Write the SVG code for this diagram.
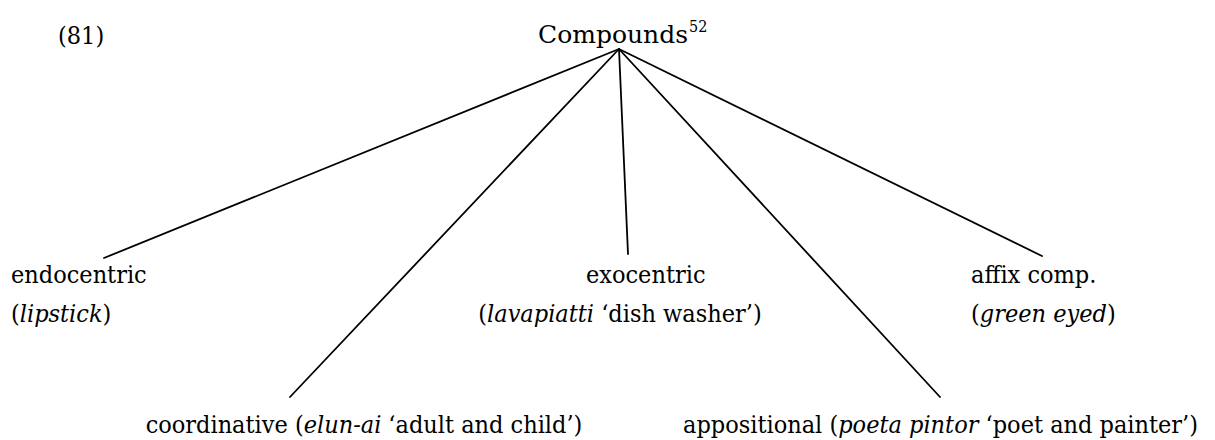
<svg xmlns="http://www.w3.org/2000/svg" width="1215" height="440" viewBox="0 0 1215 440">
<style>
text{font-family:'DejaVu Serif Condensed','DejaVu Serif',serif;font-stretch:condensed;font-size:25px;fill:#000}
.i{font-style:italic}
.sup{font-size:16px}
.m{text-anchor:middle}
line{stroke:#000;stroke-width:1.8;stroke-linecap:round}
</style>
<rect width="1215" height="440" fill="#fff"/>
<text id="label" x="58" y="44" font-size="27">(81)</text>
<g id="root"><text x="538" y="43" font-size="27" textLength="150" lengthAdjust="spacingAndGlyphs">Compounds</text><text class="sup" x="689" y="32">52</text></g>
<g id="endocentric"><text x="11" y="283">endocentric</text><text x="11" y="322">(<tspan class="i">lipstick</tspan>)</text></g>
<g id="exocentric"><text x="586" y="283">exocentric</text><text class="m" x="620" y="322" font-size="24">(<tspan class="i">lavapiatti</tspan> ‘dish washer’)</text></g>
<g id="affix"><text x="971" y="283">affix comp.</text><text x="971" y="322">(<tspan class="i">green eyed</tspan>)</text></g>
<g id="coordinative"><text class="m" x="364" y="433" font-size="24">coordinative (<tspan class="i">elun-ai</tspan><tspan dx="7">‘adult and child’)</tspan></text></g>
<g id="appositional"><text x="683" y="433">appositional (<tspan class="i">poeta pintor</tspan> ‘poet and painter’)</text></g>
<g id="connectors">
<line x1="619" y1="49" x2="104" y2="258"/>
<line x1="619" y1="49" x2="290" y2="397"/>
<line x1="619" y1="49" x2="628" y2="254"/>
<line x1="619" y1="49" x2="940" y2="397"/>
<line x1="619" y1="49" x2="1042" y2="256"/>
</g>
</svg>
